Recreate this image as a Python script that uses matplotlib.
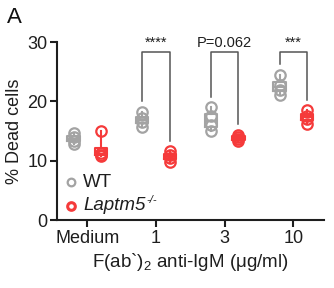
import matplotlib
matplotlib.use("Agg")
import matplotlib.pyplot as plt
import numpy as np

plt.rcParams['font.family'] = ['Liberation Sans', 'DejaVu Sans']
plt.rcParams['mathtext.fontset'] = 'custom'
plt.rcParams['mathtext.rm'] = 'Liberation Sans'
plt.rcParams['mathtext.it'] = 'Liberation Sans:italic'

categories = ["Medium", "1", "3", "10"]
wt_values = [
    [12.8, 13.4, 14.0, 14.6],
    [15.6, 16.5, 17.2, 18.2],
    [15.0, 16.0, 17.5, 19.0],
    [21.0, 22.0, 22.8, 24.5],
]
ko_values = [
    [10.8, 11.0, 11.3, 15.0],
    [9.8, 10.5, 11.0, 11.6],
    [13.3, 13.6, 14.0, 14.4],
    [16.2, 17.0, 17.6, 18.5],
]
sig_labels = ["", "****", "P=0.062", "***"]

WT_COLOR = "#a3a3a3"
KO_COLOR = "#f53a3a"
TXT = "#1e1e1e"

fig = plt.figure(figsize=(3.34, 2.88), dpi=100)
ax = fig.add_axes([0.171, 0.236, 0.800, 0.618])

x = np.arange(len(categories))
off = 0.2
bw = 0.18

for vals, pos, col in [(wt_values, x - off, WT_COLOR), (ko_values, x + off, KO_COLOR)]:
    ax.boxplot(vals, positions=pos, widths=bw, whis=(0, 100), showfliers=False,
               patch_artist=False, manage_ticks=False,
               boxprops=dict(color=col, lw=1.5),
               whiskerprops=dict(color=col, lw=1.5),
               capprops=dict(color=col, lw=0),
               medianprops=dict(color=col, lw=1.5))
    for p, v in zip(pos, vals):
        ax.plot([p] * len(v), v, 'o', mfc='none', mec=col, mew=1.6, ms=7.5,
                clip_on=False, zorder=3)

# significance brackets
top = 28.3
for i, lab in enumerate(sig_labels):
    if not lab:
        continue
    lo_l = max(wt_values[i]) + 1.8
    lo_r = max(ko_values[i]) + 1.8
    ax.plot([x[i] - off, x[i] - off, x[i] + off, x[i] + off],
            [lo_l, top, top, lo_r], color="#555555", lw=1.1, clip_on=False)
    ax.text(x[i], top + 0.4, lab, ha='center', va='bottom', fontsize=10.5,
            color=TXT)

ax.set_xlim(-0.44, 3.45)
ax.set_ylim(0, 30)
ax.set_yticks([0, 10, 20, 30])
ax.set_xticks(x)
ax.set_xticklabels(categories)
ax.tick_params(axis='both', labelsize=13, width=1.5, length=5, color=TXT,
               labelcolor=TXT, pad=2)
for s in ['top', 'right']:
    ax.spines[s].set_visible(False)
for s in ['left', 'bottom']:
    ax.spines[s].set_linewidth(1.5)
    ax.spines[s].set_color(TXT)

ax.set_ylabel("% Dead cells", fontsize=13, color=TXT, labelpad=3)
ax.set_xlabel("F(ab`)$_2$ anti-IgM (μg/ml)", fontsize=13.5, color=TXT, labelpad=3)

# legend
ax.plot([-0.24], [6.4], 'o', mfc='none', mec=WT_COLOR, mew=1.6, ms=5.5, clip_on=False)
ax.text(-0.06, 6.4, "WT", va='center', ha='left', fontsize=13.5, color=TXT)
ax.plot([-0.24], [2.4], 'o', mfc='none', mec=KO_COLOR, mew=2.2, ms=5.5, clip_on=False)
t = ax.text(-0.06, 2.4, "Laptm5", va='center', ha='left', fontsize=13.5, color=TXT,
            style='italic')
fig.canvas.draw()
bb = t.get_window_extent()
ax.annotate("-/-", xy=(bb.x1, bb.y1), xycoords='figure pixels',
            xytext=(0.5, 2), textcoords='offset points', ha='left', va='top',
            fontsize=8, style='italic', color=TXT)

fig.text(0.02, 0.975, "A", fontsize=16, ha='left', va='top', color='#111111')

fig.savefig("out.png", dpi=100)
